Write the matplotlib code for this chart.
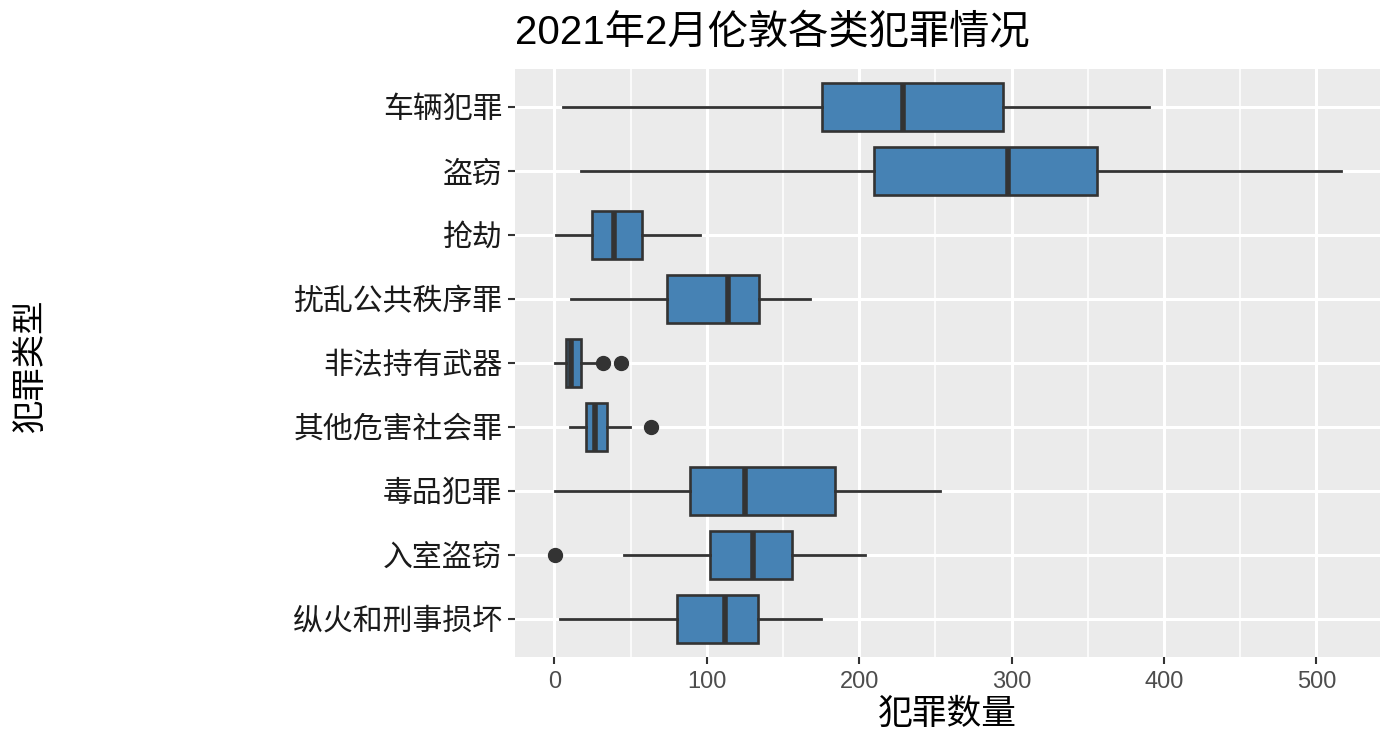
import matplotlib
matplotlib.use("Agg")
import matplotlib.pyplot as plt
from matplotlib.ticker import MultipleLocator

plt.rcParams['font.family'] = ['Liberation Sans', 'Noto Sans CJK SC', 'DejaVu Sans']

# categories listed top to bottom
categories = ["车辆犯罪", "盗窃", "抢劫", "扰乱公共秩序罪", "非法持有武器",
              "其他危害社会罪", "毒品犯罪", "入室盗窃", "纵火和刑事损坏"]
whislo = [5.5, 17.5, 1.3, 10.7, 0.5, 10.5, 0.7, 45.7, 3.5]
q1     = [175.7, 209.6, 24.7, 73.7, 7.6, 20.8, 89.0, 101.9, 80.7]
med    = [229.0, 298.0, 39.0, 114.0, 11.0, 26.4, 125.0, 130.3, 112.0]
q3     = [294.6, 356.3, 57.5, 134.6, 17.5, 34.5, 184.5, 155.9, 133.6]
whishi = [390.0, 516.0, 95.7, 168.0, 28.0, 49.4, 253.0, 204.0, 175.0]
fliers = [[], [], [], [], [31.7, 44.0], [63.2], [], [0.2], []]

title = "2021年2月伦敦各类犯罪情况"
xlabel = "犯罪数量"
ylabel = "犯罪类型"

fig = plt.figure(figsize=(13.97, 7.52), dpi=100)
ax = fig.add_axes([515/1397, 1-657/752, (1380-515)/1397, (657-69)/752])
ax.set_facecolor('#EBEBEB')

n = len(categories)
positions = list(range(n, 0, -1))
stats = []
for i in range(n):
    stats.append(dict(whislo=whislo[i], q1=q1[i], med=med[i], q3=q3[i],
                      whishi=whishi[i], fliers=fliers[i]))

ax.bxp(stats, positions=positions, vert=False, widths=0.75, patch_artist=True,
       showcaps=False,
       boxprops=dict(facecolor='#4682B4', edgecolor='#333333', linewidth=1.9),
       medianprops=dict(color='#333333', linewidth=4.0, solid_capstyle='butt'),
       whiskerprops=dict(color='#333333', linewidth=2.0),
       flierprops=dict(marker='o', markerfacecolor='#333333', markeredgecolor='#333333',
                       markersize=10),
       zorder=3)

lo, hi = 0.0, 516.0
pad = (hi - lo) * 0.05
ax.set_xlim(lo - pad, hi + pad)
ax.set_ylim(0.4, n + 0.6)

ax.xaxis.set_major_locator(MultipleLocator(100))
ax.xaxis.set_minor_locator(MultipleLocator(50))
ax.set_yticks(positions)
ax.set_yticklabels(categories)

ax.grid(which='major', color='white', linewidth=2.2, zorder=0)
ax.grid(which='minor', axis='x', color='white', linewidth=1.1, zorder=0)
ax.set_axisbelow(True)
for s in ax.spines.values():
    s.set_visible(False)

ax.tick_params(axis='both', which='major', color='#333333', length=5, width=1.5)
ax.tick_params(axis='x', which='minor', length=0)
ax.tick_params(axis='y', labelsize=21.5, labelcolor='#1a1a1a', pad=4)
ax.tick_params(axis='x', labelsize=17, labelcolor='#4d4d4d', pad=5)

ax.set_xlabel(xlabel, fontsize=25, color='black', labelpad=4)
fig.text(32/1397, 1-366/752, ylabel, rotation=90, fontsize=24, ha='center', va='center')
fig.text(515/1397, 1-32/752, title, fontsize=29, ha='left', va='center')

fig.savefig('out.png', dpi=100)
